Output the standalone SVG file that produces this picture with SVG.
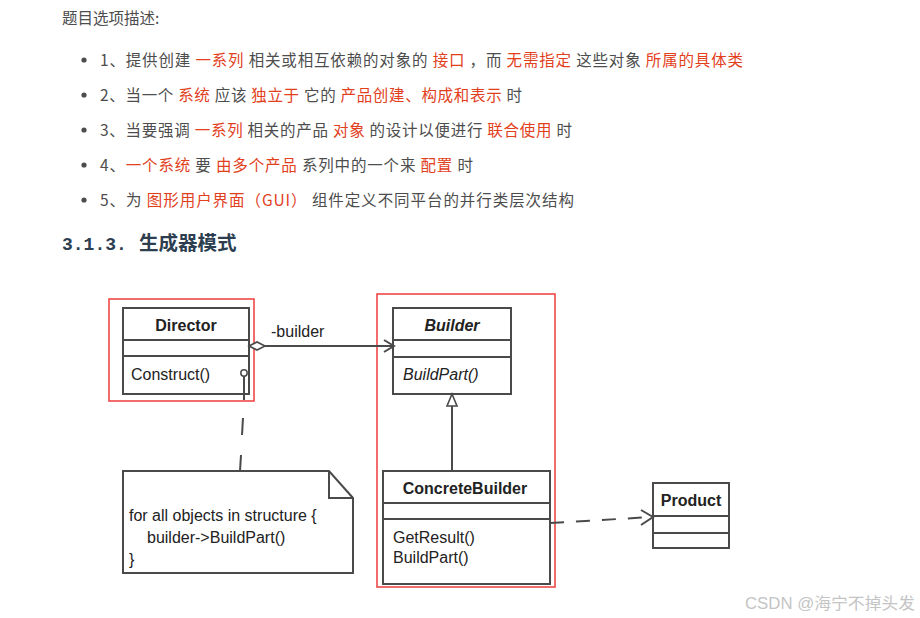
<svg xmlns="http://www.w3.org/2000/svg" width="920" height="618" viewBox="0 0 920 618">
<style>
.t{font-family:"Noto Sans CJK SC","Liberation Sans",sans-serif;font-size:15.5px;fill:#4d4d4d}
.r{fill:#e2401c}
.h{font-family:"Noto Sans CJK SC",sans-serif;font-size:19.5px;font-weight:bold;fill:#2c3e50}
.hm{font-family:"Liberation Mono",monospace;font-size:18px;font-weight:bold;fill:#2c3e50}
.box{fill:#fff;stroke:#4a4a4a;stroke-width:2}
.ln{stroke:#4a4a4a;stroke-width:2;fill:none}
.fr{fill:none;stroke:#f04848;stroke-width:1.6}
.u{font-family:"Liberation Sans",Arial,sans-serif;font-size:16px;fill:#222}
.b{font-weight:bold}
.i{font-style:italic}
</style>
<rect width="920" height="618" fill="#fff"/>
<g id="text">
<text class="t" x="62" y="24">题目选项描述:</text>
<g fill="#4d4d4d"><circle cx="84" cy="60" r="2.6"/><circle cx="84" cy="95" r="2.6"/><circle cx="84" cy="130" r="2.6"/><circle cx="84" cy="165" r="2.6"/><circle cx="84" cy="200" r="2.6"/></g>
<text class="t" x="100" y="66" textLength="643" lengthAdjust="spacing">1、提供创建 <tspan class="r">一系列</tspan> 相关或相互依赖的对象的 <tspan class="r">接口</tspan> ，而 <tspan class="r">无需指定</tspan> 这些对象 <tspan class="r">所属的具体类</tspan></text>
<text class="t" x="100" y="101" textLength="422" lengthAdjust="spacing">2、当一个 <tspan class="r">系统</tspan> 应该 <tspan class="r">独立于</tspan> 它的 <tspan class="r">产品创建、构成和表示</tspan> 时</text>
<text class="t" x="100" y="136" textLength="472" lengthAdjust="spacing">3、当要强调 <tspan class="r">一系列</tspan> 相关的产品 <tspan class="r">对象</tspan> 的设计以便进行 <tspan class="r">联合使用</tspan> 时</text>
<text class="t" x="100" y="171" textLength="373" lengthAdjust="spacing">4、<tspan class="r">一个系统</tspan> 要 <tspan class="r">由多个产品</tspan> 系列中的一个来 <tspan class="r">配置</tspan> 时</text>
<text class="t" x="100" y="206" textLength="474" lengthAdjust="spacing">5、为 <tspan class="r">图形用户界面（GUI）</tspan> 组件定义不同平台的并行类层次结构</text>
<text x="62" y="250"><tspan class="hm">3.1.3.</tspan><tspan class="h" x="139">生成器模式</tspan></text>
</g>
<g id="frames">
<rect class="fr" x="109" y="299" width="145" height="102"/>
<rect class="fr" x="377" y="294" width="178" height="293"/>
</g>
<g id="Director">
<rect class="box" x="123" y="308" width="126" height="86"/>
<line class="ln" x1="123" y1="340" x2="249" y2="340"/>
<line class="ln" x1="123" y1="356" x2="249" y2="356"/>
<text class="u b" x="186" y="331" text-anchor="middle">Director</text>
<text class="u" x="131" y="380">Construct()</text>
<circle cx="244" cy="373" r="3.2" fill="#fff" stroke="#4a4a4a" stroke-width="1.5"/>
</g>
<g id="Builder">
<rect class="box" x="393" y="308" width="118" height="86"/>
<line class="ln" x1="393" y1="340" x2="511" y2="340"/>
<line class="ln" x1="393" y1="357" x2="511" y2="357"/>
<text class="u b i" x="452" y="331" text-anchor="middle">Builder</text>
<text class="u i" x="403" y="380">BuildPart()</text>
</g>
<g id="ConcreteBuilder">
<rect class="box" x="383" y="471" width="167" height="113"/>
<line class="ln" x1="383" y1="503" x2="550" y2="503"/>
<line class="ln" x1="383" y1="519" x2="550" y2="519"/>
<text class="u b" x="465" y="494" text-anchor="middle">ConcreteBuilder</text>
<text class="u" x="393" y="543">GetResult()</text>
<text class="u" x="393" y="563">BuildPart()</text>
</g>
<g id="Product">
<rect class="box" x="653" y="483" width="76" height="65"/>
<line class="ln" x1="653" y1="516" x2="729" y2="516"/>
<line class="ln" x1="653" y1="533" x2="729" y2="533"/>
<text class="u b" x="691" y="506" text-anchor="middle">Product</text>
</g>
<g id="Note">
<path class="box" d="M123,471 H329 L353,498 V573 H123 Z"/>
<path class="ln" d="M329,471 V498 H353" stroke-width="1.6"/>
<text class="u" x="129" y="521">for all objects in structure {</text>
<text class="u" x="147" y="543">builder-&gt;BuildPart()</text>
<text class="u" x="129" y="565">}</text>
</g>
<g id="connectors">
<path d="M249,346 L257,342 L265,346 L257,350 Z" fill="#fff" stroke="#4a4a4a" stroke-width="1.6"/>
<line class="ln" x1="265" y1="346" x2="393" y2="346"/>
<path class="ln" d="M384,340 L394,346 L384,352"/>
<text class="u" x="271" y="337">-builder</text>
<path d="M452,394 L457,406 L447,406 Z" fill="#fff" stroke="#4a4a4a" stroke-width="1.6"/>
<line class="ln" x1="452" y1="406" x2="452" y2="471"/>
<line class="ln" x1="244" y1="376" x2="244" y2="400"/>
<line class="ln" x1="243" y1="418" x2="242" y2="435"/>
<line class="ln" x1="241" y1="455" x2="240" y2="471"/>
<line class="ln" x1="550" y1="523" x2="652" y2="517" stroke-dasharray="14 12"/>
<path class="ln" d="M641,510 L653,517 L641,525"/>
</g>
<text x="745" y="609" font-family="'Liberation Sans','Noto Sans CJK SC',sans-serif" font-size="16" fill="#c4c4c4" textLength="170" lengthAdjust="spacingAndGlyphs">CSDN @海宁不掉头发</text>
</svg>
